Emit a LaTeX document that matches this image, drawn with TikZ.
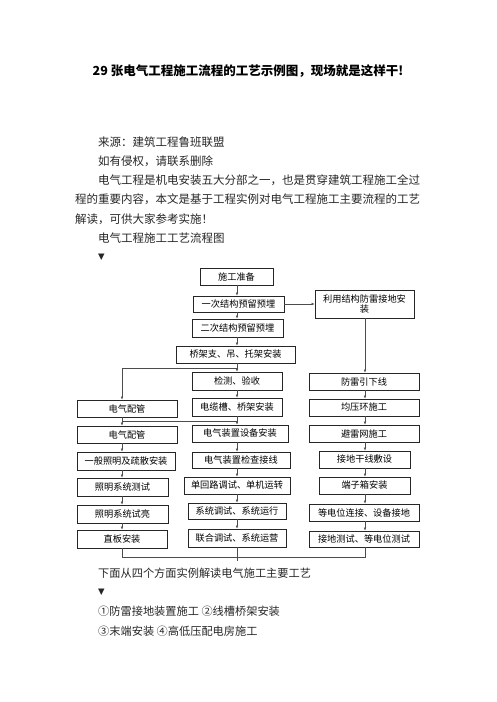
\documentclass[tikz,border=0pt]{standalone}
\usepackage{fontspec}
\setmainfont{Noto Sans CJK SC}
\newfontfamily\symfont{DejaVu Sans}
\usetikzlibrary{arrows.meta}

\begin{document}
\begin{tikzpicture}
        [x=1pt,y=-1pt,
         stepbox/.style={draw=black!85,line width=0.6pt,inner sep=0pt,align=center,font=\fontsize{9.2}{10.5}\selectfont},
         link/.style={draw=black!70,line width=0.5pt},
         arr/.style={link,-{Latex[length=3.2pt,width=2.6pt]}},
         para/.style={anchor=west,inner sep=0pt,text=black!85,font=\fontsize{11.5}{13}\selectfont},
         after/.style={anchor=west,inner sep=0pt,text=black!85,font=\fontsize{11.2}{13}\selectfont},
         glyph/.style={anchor=west,inner sep=0pt,text=black!85,font=\symfont\fontsize{8.5}{10}\selectfont}]
        \useasboundingbox (0,0) rectangle (496,702);
        \path node (title) at (248,71) [inner sep=0pt,font=\bfseries\fontsize{12.5}{15}\selectfont] {29 张电气工程施工流程的工艺示例图，现场就是这样干!}
              node (src) at (98,142) [para] {来源：建筑工程鲁班联盟}
              node (note) at (98,161) [para] {如有侵权，请联系删除}
              node (introA) at (98,180) [para] {电气工程是机电安装五大分部之一，也是贯穿建筑工程施工全过}
              node (introB) at (75,199) [para] {程的重要内容，本文是基于工程实例对电气工程施工主要流程的工艺}
              node (introC) at (75,219) [para] {解读，可供大家参考实施！}
              node (caption) at (98,238) [para] {电气工程施工工艺流程图}
              node (markA) at (98,257) [glyph] {▼}
              node (lead) at (98,573) [after] {下面从四个方面实例解读电气施工主要工艺}
              node (markB) at (98,592) [glyph] {▼}
              node (listA) at (98,611) [after] {①防雷接地装置施工 ②线槽桥架安装}
              node (listB) at (98,631) [after] {③末端安装 ④高低压配电房施工};
        \path node (prep) at (236.5,276.5) [stepbox,minimum width=73,minimum height=17] {施工准备}
              node (first) at (238.5,304) [stepbox,minimum width=91,minimum height=16] {一次结构预留预埋}
              node (second) at (237.5,328) [stepbox,minimum width=91,minimum height=18] {二次结构预留预埋}
              node (tray) at (235.5,354.5) [stepbox,minimum width=119,minimum height=17] {桥架支、吊、托架安装}
              node (check) at (237,381) [stepbox,minimum width=90,minimum height=18] {检测、验收}
              node (trough) at (237,407) [stepbox,minimum width=90,minimum height=18] {电缆槽、桥架安装}
              node (devinst) at (240,433.5) [stepbox,minimum width=96,minimum height=17] {电气装置设备安装}
              node (wiring) at (241,460) [stepbox,minimum width=98,minimum height=16] {电气装置检查接线}
              node (single) at (237,485.5) [stepbox,minimum width=106,minimum height=17] {单回路调试、单机运转}
              node (systest) at (237,511) [stepbox,minimum width=98,minimum height=16] {系统调试、系统运行}
              node (joint) at (237,538) [stepbox,minimum width=98,minimum height=18] {联合调试、系统运营}
              node (pipeA) at (127,408.5) [stepbox,minimum width=100,minimum height=17] {电气配管}
              node (pipeB) at (127,434.5) [stepbox,minimum width=100,minimum height=17] {电气配管}
              node (lighting) at (126,461) [stepbox,minimum width=98,minimum height=18] {一般照明及疏散安装}
              node (lighttest) at (122.5,487) [stepbox,minimum width=91,minimum height=18] {照明系统测试}
              node (lighton) at (122.5,514) [stepbox,minimum width=91,minimum height=18] {照明系统试亮}
              node (board) at (122,539) [stepbox,minimum width=90,minimum height=18] {直板安装}
              node (lpz) at (364.5,304) [stepbox,minimum width=99,minimum height=28] {利用结构防雷接地安\\装}
              node (down) at (364,381.5) [stepbox,minimum width=110,minimum height=17] {防雷引下线}
              node (ring) at (364,407.5) [stepbox,minimum width=110,minimum height=17] {均压环施工}
              node (net) at (364,433.5) [stepbox,minimum width=110,minimum height=17] {避雷网施工}
              node (trunk) at (364.5,459.5) [stepbox,minimum width=91,minimum height=17] {接地干线敷设}
              node (tbox) at (364.5,485.5) [stepbox,minimum width=91,minimum height=17] {端子箱安装}
              node (equi) at (364,512.5) [stepbox,minimum width=110,minimum height=17] {等电位连接、设备接地}
              node (gtest) at (364,539) [stepbox,minimum width=110,minimum height=16] {接地测试、等电位测试};
        \coordinate (lcol) at (122,0);
        \coordinate (ccol) at (237,0);
        \coordinate (rcol) at (365,0);
        \coordinate (fork) at (237,368);
        \coordinate (join) at (237,421);
        \coordinate (merge) at (237,557);
        \coordinate (out) at (237,561);
        \foreach \a/\b in {prep/first,first/second,second/tray,tray/check,check/trough,trough/devinst,devinst/wiring,wiring/single,single/systest,systest/joint}
          \draw[arr] (ccol |- \a.south) -- (ccol |- \b.north);
        \foreach \a/\b in {pipeA/pipeB,pipeB/lighting,lighting/lighttest,lighttest/lighton,lighton/board}
          \draw[arr] (lcol |- \a.south) -- (lcol |- \b.north);
        \foreach \a/\b in {lpz/down,down/ring,ring/net,net/trunk,trunk/tbox,tbox/equi,equi/gtest}
          \draw[arr] (rcol |- \a.south) -- (rcol |- \b.north);
        \draw[arr] (first.east) -- (lpz.west);
        \draw[arr] (fork) -| (lcol |- pipeA.north);
        \draw[link] (join) -- (lcol |- join);
        \draw[link] (lcol |- board.south) |- (rcol |- merge) -- (rcol |- gtest.south);
        \draw[link] (ccol |- joint.south) -- (out);
      \end{tikzpicture}
\end{document}
